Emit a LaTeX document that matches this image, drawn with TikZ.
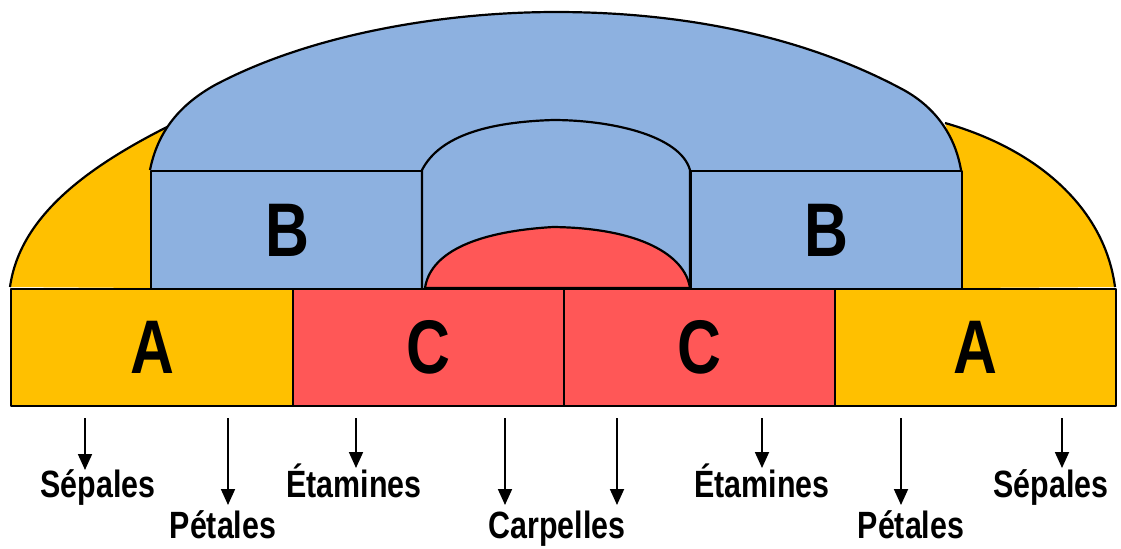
\documentclass[tikz,border=0pt]{standalone}
\usepackage{fontspec}
\setmainfont{Liberation Sans}[FakeStretch=0.8]
\usetikzlibrary{arrows.meta}
\definecolor{cyel}{HTML}{FFC000}
\definecolor{cblue}{HTML}{8DB1E0}
\definecolor{cred}{HTML}{FF5757}
\begin{document}
\begin{tikzpicture}[x=0.5pt,y=-0.5pt,line join=round,
  outl/.style={draw=black,line width=1.1pt},
  big/.style={font=\fontsize{38}{38}\selectfont\bfseries},
  lab/.style={font=\fontsize{19}{19}\selectfont\bfseries,inner sep=0pt,anchor=base},
  arr/.style={line width=0.9pt,-{Triangle[width=7pt,length=8pt]}}]
\useasboundingbox (0,0) rectangle (1121,548);
% yellow sides
\fill[cyel] (10,287) .. controls (20,215) and (90,165) .. (175,123) -- (150,170) -- (150,288) -- cycle;
\draw[outl] (10,287) .. controls (20,215) and (90,165) .. (175,123);
\fill[cyel] (1115,287) .. controls (1105,210) and (1040,150) .. (945,123) -- (960,170) -- (960,288) -- cycle;
\draw[outl] (1115,287) .. controls (1105,210) and (1040,150) .. (945,123);
% blue dome
\def\domepath{(150,170) .. controls (158,130) and (181,104) .. (215,85) .. controls (315,32) and (450,12) .. (556,12) .. controls (680,12) and (800,35) .. (900,88) .. controls (935,106) and (955,135) .. (961,170)}
\fill[cblue] (150,288) -- \domepath -- (961,288) -- cycle;
\draw[outl] \domepath;
% B boxes
\node[outl,fill=cblue,minimum width=136pt,minimum height=59pt,inner sep=0pt,anchor=north west] (bl) at (150,170) {};
\node[outl,fill=cblue,minimum width=135.5pt,minimum height=59pt,inner sep=0pt,anchor=north west] (br) at (690,170) {};
\node[big] at (bl.center) {B};
\node[big] at (br.center) {B};
% inner blue bump
\draw[outl,fill=cblue] (422,288) -- (422,170) .. controls (440,135) and (490,122) .. (553,120) .. controls (610,120) and (680,135) .. (690,170) -- (690,288);
% red dome
\draw[outl,fill=cred] (425,288) .. controls (430,255) and (470,232) .. (553,227) .. controls (640,228) and (685,255) .. (690,288) -- cycle;
% bottom boxes
\node[outl,fill=cyel,minimum width=141pt,minimum height=58.5pt,inner sep=0pt,anchor=north west] (a1) at (10,288) {};
\node[outl,fill=cred,minimum width=135.5pt,minimum height=58.5pt,inner sep=0pt,anchor=north west] (c1) at (292,288) {};
\node[outl,fill=cred,minimum width=135.5pt,minimum height=58.5pt,inner sep=0pt,anchor=north west] (c2) at (563,288) {};
\node[outl,fill=cyel,minimum width=140.5pt,minimum height=58.5pt,inner sep=0pt,anchor=north west] (a2) at (834,288) {};
\node[big] at (a1.center) {A};
\node[big] at (c1.center) {C};
\node[big] at (c2.center) {C};
\node[big] at (a2.center) {A};
% labels
\node[lab] (s1) at (98,497) {Sépales};
\node[lab] (p1) at (223,538) {Pétales};
\node[lab] (e1) at (354,497) {Étamines};
\node[lab] (ca) at (557,538) {Carpelles};
\node[lab] (e2) at (762,497) {Étamines};
\node[lab] (p2) at (911,538) {Pétales};
\node[lab] (s2) at (1051,497) {Sépales};
\coordinate (t1) at (85,418); \coordinate (t2) at (228,418); \coordinate (t3) at (356,418); \coordinate (t4) at (505,418);
\coordinate (t5) at (617,418); \coordinate (t6) at (762,418); \coordinate (t7) at (901,418); \coordinate (t8) at (1062,418);
\draw[arr] (t1) -- (85,470);
\draw[arr] (t2) -- (228,505);
\draw[arr] (t3) -- (356,468);
\draw[arr] (t4) -- (505,505);
\draw[arr] (t5) -- (617,505);
\draw[arr] (t6) -- (762,468);
\draw[arr] (t7) -- (901,505);
\draw[arr] (t8) -- (1062,468);
\end{tikzpicture}
\end{document}
